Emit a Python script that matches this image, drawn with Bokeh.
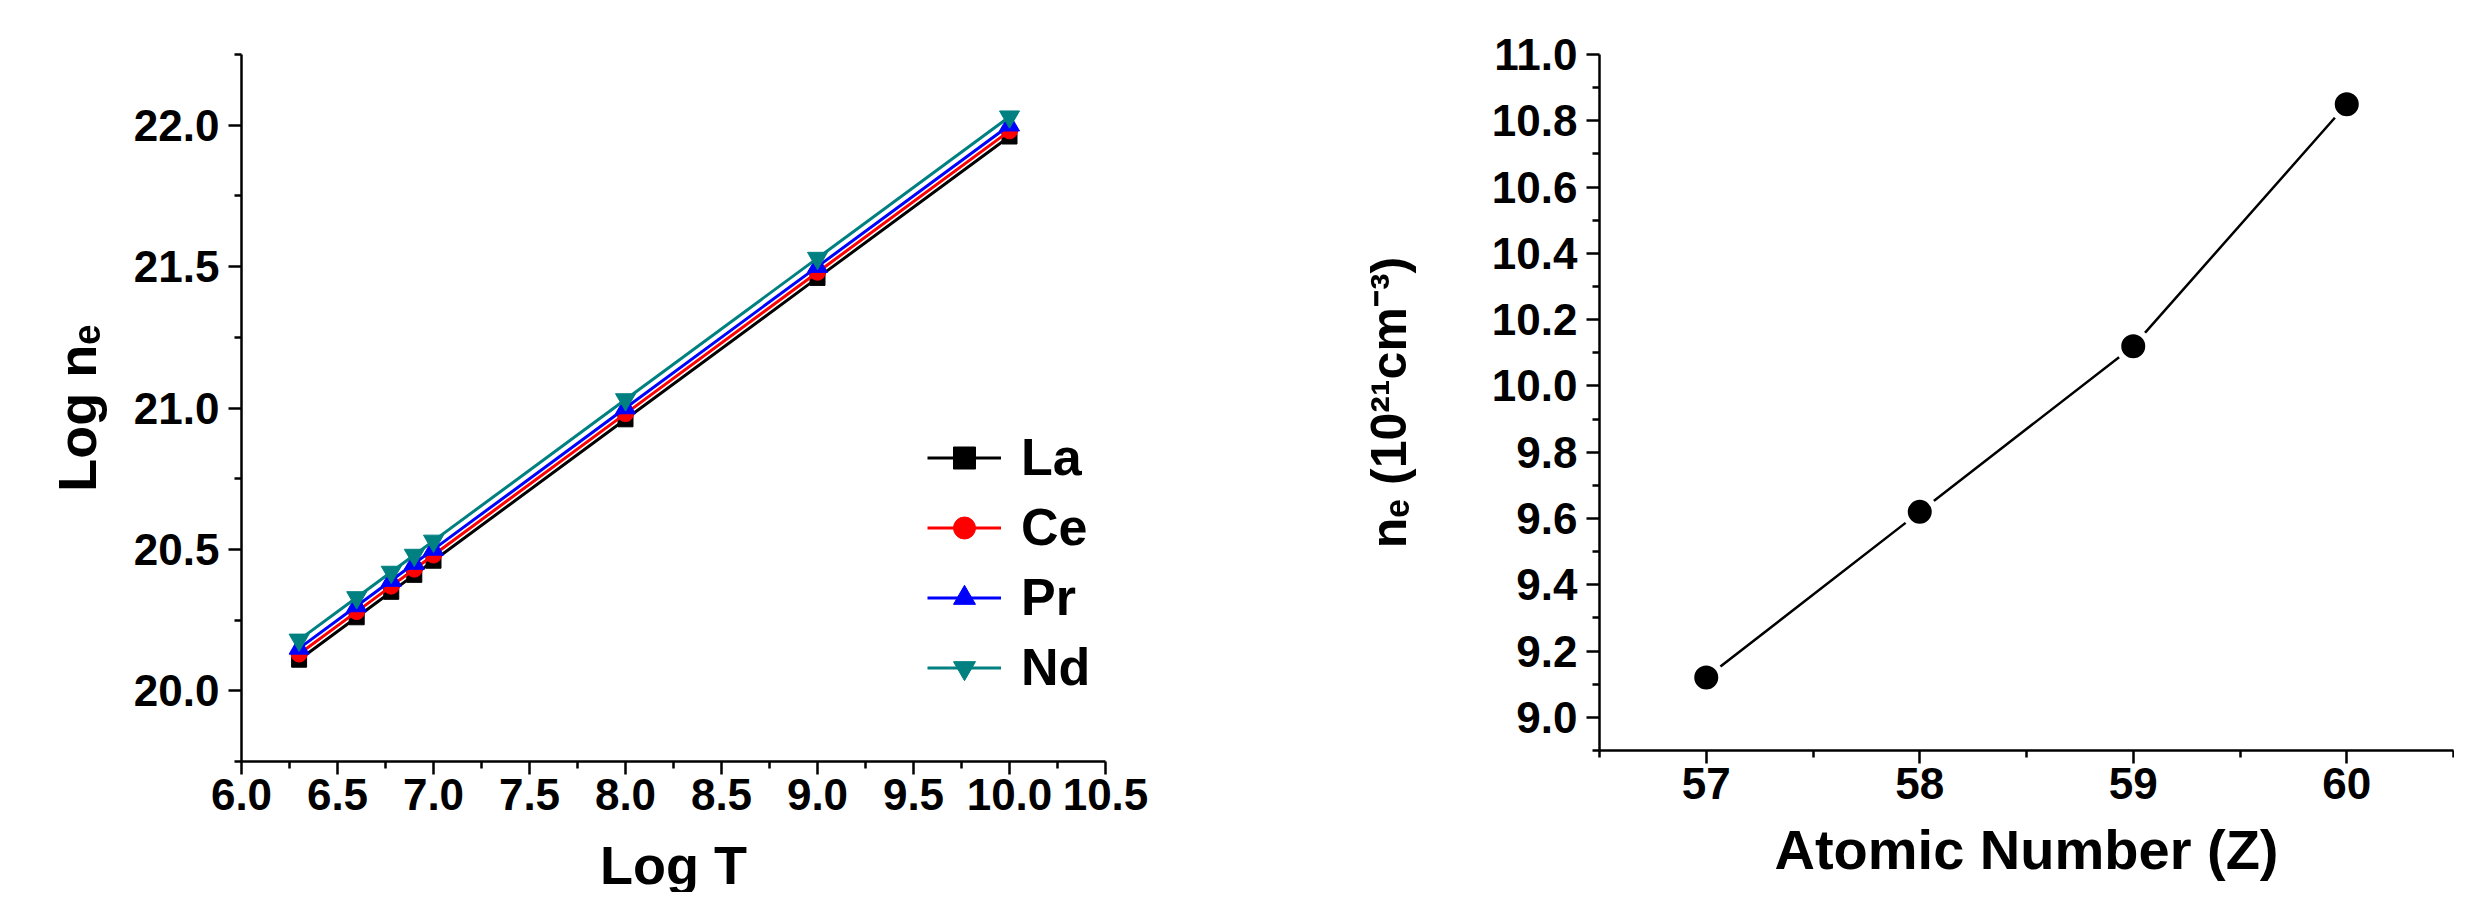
from bokeh.plotting import figure
from bokeh.layouts import row
from bokeh.models import Range1d, FixedTicker, PrintfTickFormatter
from bokeh.embed import file_html
from bokeh.resources import INLINE

# ---------------- data ----------------
log_T = [6.30, 6.60, 6.78, 6.90, 7.00, 8.00, 9.00, 10.00]
log_ne_La = [20.11, 20.26, 20.35, 20.41, 20.46, 20.96, 21.46, 21.96]
log_ne_Ce = [20.13, 20.28, 20.37, 20.43, 20.48, 20.98, 21.48, 21.98]
log_ne_Pr = [20.15, 20.30, 20.39, 20.45, 20.50, 21.00, 21.50, 22.00]
log_ne_Nd = [20.18, 20.33, 20.42, 20.48, 20.53, 21.03, 21.53, 22.03]
series_names = ["La", "Ce", "Pr", "Nd"]

Z = [57, 58, 59, 60]
ne_Z = [9.12, 9.62, 10.12, 10.85]

x1_ticks = [6.0, 6.5, 7.0, 7.5, 8.0, 8.5, 9.0, 9.5, 10.0, 10.5]
x1_minor = [6.25, 6.75, 7.25, 7.75, 8.25, 8.75, 9.25, 9.75, 10.25]
y1_ticks = [20.0, 20.5, 21.0, 21.5, 22.0]
y1_minor = [19.75, 20.25, 20.75, 21.25, 21.75, 22.25]
x2_ticks = [57, 58, 59, 60]
x2_minor = [56.5, 57.5, 58.5, 59.5, 60.5]
y2_ticks = [9.0, 9.2, 9.4, 9.6, 9.8, 10.0, 10.2, 10.4, 10.6, 10.8, 11.0]
y2_minor = [8.9, 9.1, 9.3, 9.5, 9.7, 9.9, 10.1, 10.3, 10.5, 10.7, 10.9]

x1_title = "Log T"
y1_title = "Log n\u2091"
x2_title = "Atomic Number (Z)"
y2_title = "n\u2091 (10\u00b2\u00b9cm\u207b\u00b3)"

FONT = "Liberation Sans"
TICK_SIZE = "44px"


def style_axes(p):
    for ax in (p.xaxis[0], p.yaxis[0]):
        ax.axis_line_width = 2.5
        ax.axis_line_color = "black"
        ax.major_tick_line_width = 2.5
        ax.minor_tick_line_width = 2.5
        ax.major_tick_in = 0
        ax.major_tick_out = 13
        ax.minor_tick_in = 0
        ax.minor_tick_out = 7
        ax.major_label_text_font = FONT
        ax.major_label_text_font_style = "bold"
        ax.major_label_text_font_size = TICK_SIZE
        ax.major_label_text_color = "black"
        ax.axis_label_text_font = FONT
        ax.axis_label_text_font_style = "bold"
        ax.axis_label_text_color = "black"
    p.xaxis.major_label_standoff = 4
    p.yaxis.major_label_standoff = 9
    p.xgrid.visible = False
    p.ygrid.visible = False
    p.outline_line_color = None


# ---------------- left figure ----------------
p1 = figure(frame_width=864, frame_height=707, title=None,
            x_range=Range1d(6.0, 10.5), y_range=Range1d(19.75, 22.25),
            min_border_left=241, min_border_right=187, min_border_top=39, min_border_bottom=146,
            output_backend="svg", toolbar_location=None, background_fill_color="white",
            border_fill_color="white")
style_axes(p1)
p1.xaxis.ticker = FixedTicker(ticks=x1_ticks, minor_ticks=x1_minor)
p1.yaxis.ticker = FixedTicker(ticks=y1_ticks, minor_ticks=y1_minor)
p1.xaxis.formatter = PrintfTickFormatter(format="%.1f")
p1.yaxis.formatter = PrintfTickFormatter(format="%.1f")
p1.xaxis.axis_label = x1_title
p1.xaxis.axis_label_text_font_size = "54px"
p1.xaxis.axis_label_standoff = 22
p1.yaxis.axis_label = y1_title
p1.yaxis.axis_label_text_font_size = "54px"
p1.yaxis.axis_label_standoff = 24

colors = ["black", "#FF0000", "#0000FF", "#008080"]
markers = ["square", "circle", "triangle", "inverted_triangle"]
sizes = [15, 16, 20, 20]
for name, ys, c, m, s in zip(series_names, [log_ne_La, log_ne_Ce, log_ne_Pr, log_ne_Nd],
                             colors, markers, sizes):
    p1.line(log_T, ys, line_color=c, line_width=3, legend_label=name)
    p1.scatter(log_T, ys, marker=m, size=s, fill_color=c, line_color=c, legend_label=name)

lg = p1.legend[0]
lg.location = (686, 64)
lg.padding = 0
lg.margin = 0
lg.border_line_color = None
lg.background_fill_alpha = 0
lg.glyph_width = 74
lg.glyph_height = 55
lg.label_height = 55
lg.spacing = 10
lg.label_standoff = 20
lg.label_text_font = FONT
lg.label_text_font_style = "bold"
lg.label_text_font_size = "52px"
lg.label_text_color = "black"
lg.label_text_baseline = "middle"

# ---------------- right figure ----------------
p2 = figure(frame_width=854, frame_height=696, title=None,
            x_range=Range1d(56.5, 60.5), y_range=Range1d(8.9, 11.0),
            min_border_left=307, min_border_right=1, min_border_top=54, min_border_bottom=142,
            output_backend="svg", toolbar_location=None, background_fill_color="white",
            border_fill_color="white")
style_axes(p2)
p2.xaxis.ticker = FixedTicker(ticks=x2_ticks, minor_ticks=x2_minor)
p2.yaxis.ticker = FixedTicker(ticks=y2_ticks, minor_ticks=y2_minor)
p2.xaxis.formatter = PrintfTickFormatter(format="%d")
p2.yaxis.formatter = PrintfTickFormatter(format="%.1f")
p2.xaxis.axis_label = x2_title
p2.xaxis.axis_label_text_font_size = "56px"
p2.xaxis.axis_label_standoff = 16
p2.yaxis.axis_label = y2_title
p2.yaxis.axis_label_text_font_size = "50px"
p2.yaxis.axis_label_standoff = 72

p2.line(Z, ne_Z, line_color="black", line_width=2.5)
p2.scatter(Z, ne_Z, marker="circle", size=30, fill_color="black",
           line_color="white", line_width=6)

layout = row(p1, p2)
open("out.html", "w").write(file_html(layout, INLINE))
